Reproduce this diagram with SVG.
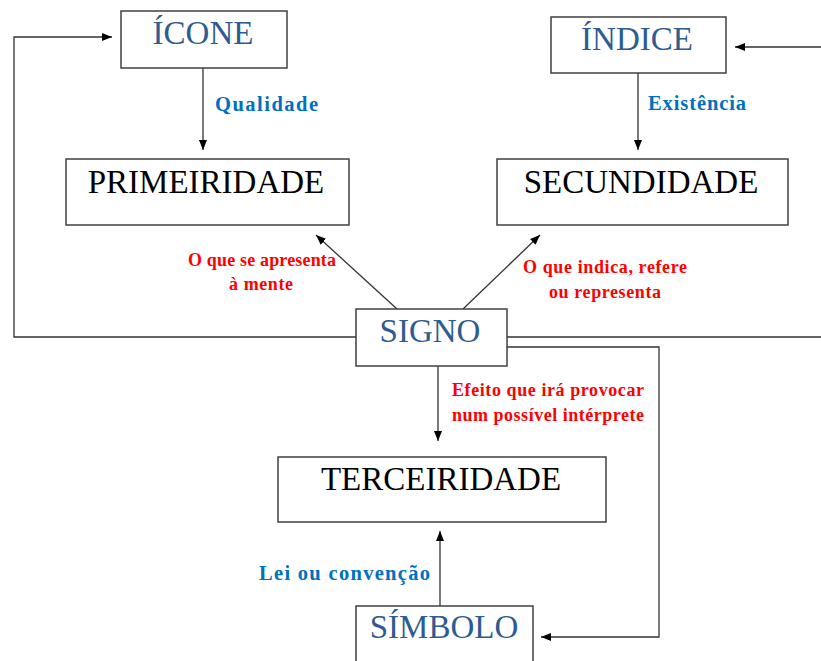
<svg xmlns="http://www.w3.org/2000/svg" width="821" height="661" viewBox="0 0 821 661">
<defs>
<marker id="ah" viewBox="0 0 10 8" refX="10" refY="4" markerWidth="10" markerHeight="8" markerUnits="userSpaceOnUse" orient="auto">
<path d="M0,0 L10,4 L0,8 z" fill="#000"/>
</marker>
<style>
.box{fill:#fff;stroke:#404040;stroke-width:1.5}
.nt{font-family:"Liberation Serif","Times New Roman",serif;font-size:33px;text-anchor:middle}
.blue{fill:#2E5B91}
.blk{fill:#000}
.lbl{font-family:"Liberation Serif","Times New Roman",serif;font-size:18px;font-weight:bold}
.lb{fill:#0070C0;font-size:20.5px}
.lr{fill:#FF0000}
.c{fill:none;stroke:#333;stroke-width:1.3}
.a{marker-end:url(#ah)}
</style>
</defs>
<rect width="821" height="661" fill="#fff"/>
<g id="connectors">
<path class="c a" d="M203,68 L203,150"/>
<path class="c a" d="M638,73 L638,150"/>
<path class="c a" d="M397,309 L316,235"/>
<path class="c a" d="M463,309 L540,235"/>
<path class="c a" d="M438,366 L438,441"/>
<path class="c a" d="M440,606 L440,531"/>
<path class="c a" d="M356,337 L14,337 L14,37 L112,37"/>
<path class="c a" d="M507,337 L830,337 L830,47 L735,47"/>
<path class="c a" d="M507,347 L659,347 L659,637 L541,637"/>
</g>
<g id="labels">
<text class="lbl lb" x="215" y="111" textLength="103" lengthAdjust="spacing">Qualidade</text>
<text class="lbl lb" x="648" y="110" textLength="98" lengthAdjust="spacing">Existência</text>
<text class="lbl lr" x="188" y="266" textLength="148" lengthAdjust="spacing">O que se apresenta</text>
<text class="lbl lr" x="229" y="290" textLength="64" lengthAdjust="spacing">à mente</text>
<text class="lbl lr" x="523" y="273" textLength="164" lengthAdjust="spacing">O que indica, refere</text>
<text class="lbl lr" x="549" y="298" textLength="112" lengthAdjust="spacing">ou representa</text>
<text class="lbl lr" x="452" y="396" textLength="192" lengthAdjust="spacing">Efeito que irá provocar</text>
<text class="lbl lr" x="452" y="421" textLength="192" lengthAdjust="spacing">num possível intérprete</text>
<text class="lbl lb" x="259" y="580" textLength="171" lengthAdjust="spacing">Lei ou convenção</text>
</g>
<g id="icone">
<rect class="box" x="121" y="11" width="166" height="57"/>
<text class="nt blue" x="203" y="44">ÍCONE</text>
</g>
<g id="indice">
<rect class="box" x="551" y="17" width="175" height="56"/>
<text class="nt blue" x="637" y="50">ÍNDICE</text>
</g>
<g id="primeiridade">
<rect class="box" x="66" y="159" width="283" height="66"/>
<text class="nt blk" x="206" y="193">PRIMEIRIDADE</text>
</g>
<g id="secundidade">
<rect class="box" x="497" y="159" width="291" height="66"/>
<text class="nt blk" x="641" y="193">SECUNDIDADE</text>
</g>
<g id="signo">
<rect class="box" x="356" y="309" width="151" height="57"/>
<text class="nt blue" x="430" y="342">SIGNO</text>
</g>
<g id="terceiridade">
<rect class="box" x="278" y="457" width="328" height="65"/>
<text class="nt blk" x="441" y="490">TERCEIRIDADE</text>
</g>
<g id="simbolo">
<rect class="box" x="356" y="606" width="177" height="70"/>
<text class="nt blue" x="444" y="638">SÍMBOLO</text>
</g>
</svg>
